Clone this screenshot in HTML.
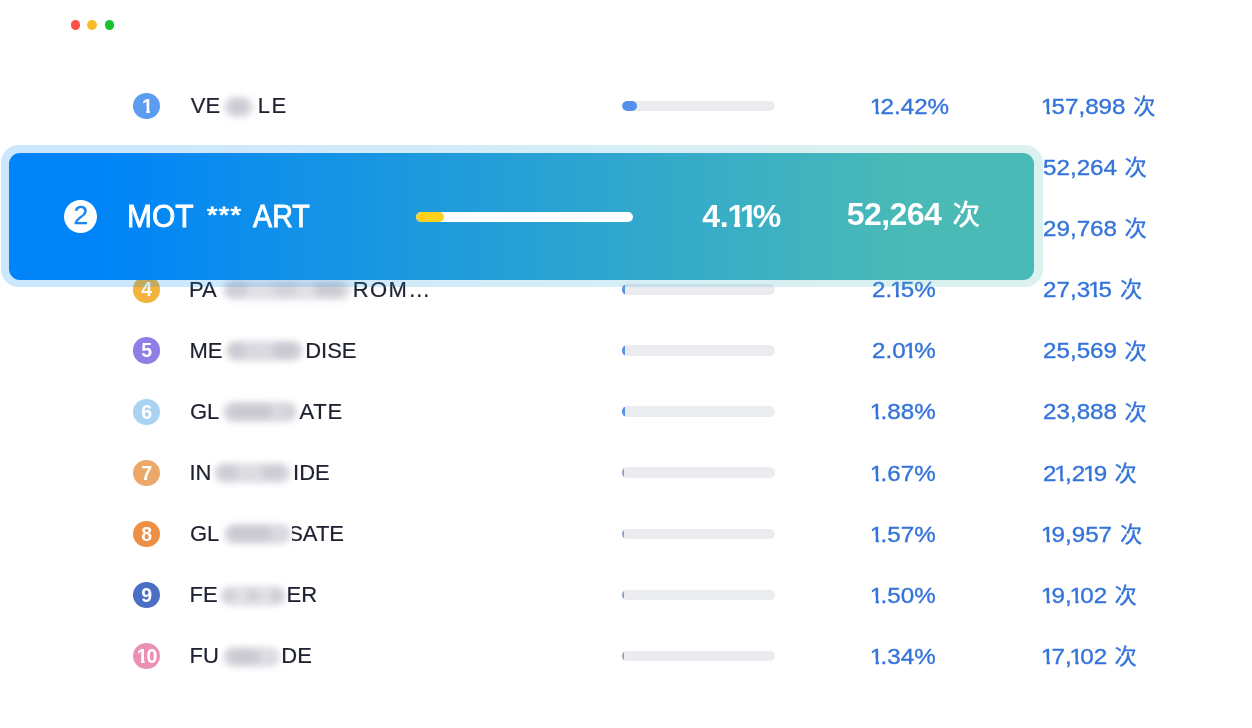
<!DOCTYPE html>
<html><head><meta charset="utf-8"><title>rank</title>
<style>
html,body{margin:0;padding:0;background:#fff;}
body{width:1252px;height:728px;position:relative;overflow:hidden;font-family:"Liberation Sans","Noto Sans CJK SC",sans-serif;}
.dot{position:absolute;width:9.6px;height:9.8px;border-radius:50%;top:20.05px;}
.row{position:absolute;left:0;width:1252px;height:40px;}
.badge{position:absolute;left:132.9px;top:6.9px;width:27.4px;height:26.2px;border-radius:50%;color:#fff;font-size:19.5px;line-height:26.4px;text-align:center;font-weight:bold;}
.t{position:absolute;top:0.3px;height:40px;line-height:40px;font-size:22px;color:#1e2230;white-space:nowrap;-webkit-text-stroke:0.2px #1e2230;}
.tr{position:absolute;top:0.2px;height:40px;overflow:hidden;}
.tr .t{top:0;left:auto;right:0;}
.blur{position:absolute;top:10.5px;height:20px;background:#dad9e0;border-radius:10px;filter:blur(3px);}
.spot{position:absolute;top:13.5px;height:13px;background:#c6c5ce;border-radius:7px;filter:blur(3px);}
.bar{position:absolute;left:622.2px;top:14.7px;width:152.4px;height:10.6px;border-radius:5.3px;background:#ebecf0;overflow:hidden;}
.fill{position:absolute;left:0;top:0;height:10.6px;border-radius:5.3px;}
.p{position:absolute;left:872px;top:0.8px;line-height:40px;font-size:22px;color:#3474da;white-space:nowrap;-webkit-text-stroke:0.35px #3474da;transform:scaleX(1.1);transform-origin:0 50%;}
.c{position:absolute;left:1042.8px;top:0.8px;line-height:40px;font-size:22px;color:#3474da;white-space:nowrap;-webkit-text-stroke:0.35px #3474da;transform:scaleX(1.1);transform-origin:0 50%;}
.c span{display:inline-block;font-size:22px;position:relative;top:0.2px;margin-left:1px;transform:scaleX(.92);transform-origin:0 50%;-webkit-text-stroke:0.3px #3474da;}
.badge i{font-style:normal;display:inline-block;position:relative;clip-path:polygon(0 0,7.9px 0,7.9px 100%,4.2px 100%,4.2px 14px,0 14px);}
.p i,.c i{font-style:normal;display:inline-block;margin:0 -2.6px 0 -1.95px;clip-path:polygon(0 0,8.25px 0,8.25px 100%,5.3px 100%,5.3px 21px,0 21px);}
.hl-o{position:absolute;left:1px;top:145px;width:1042px;height:142px;border-radius:18px;background:linear-gradient(90deg,rgba(0,132,248,.2) 0%,rgba(0,132,248,.2) 9.6%,rgba(74,186,182,.2) 87.5%,rgba(74,186,182,.2) 100%);}
.hl{position:absolute;left:9px;top:153px;width:1025px;height:126.6px;border-radius:11px;background:linear-gradient(90deg,#0084f8 0%,#0084f8 9%,#4abab6 88%,#4abab6 100%);color:#fff;}
.hl .num{position:absolute;left:55.4px;top:47.4px;width:33px;height:33px;border-radius:50%;background:#fff;color:#1c86ee;font-size:26.5px;line-height:31.5px;text-align:center;-webkit-text-stroke:0.3px #1c86ee;}
.hl .name{position:absolute;left:0;top:39.4px;line-height:50px;font-size:31px;white-space:nowrap;-webkit-text-stroke:0.85px #fff;}
.hl .name span{position:absolute;top:0;transform-origin:0 50%;}
.hl .hb{position:absolute;left:407px;top:58.8px;width:217px;height:10.4px;border-radius:5.2px;background:#fff;overflow:hidden;}
.hl .hf{position:absolute;left:0;top:0;width:28px;height:10.4px;border-radius:5.2px;background:#fcd11d;}
.hl .hp{position:absolute;left:693.3px;top:38.1px;line-height:50px;font-size:32px;font-weight:bold;white-space:nowrap;letter-spacing:-0.4px;}
.hl .hp i{font-style:normal;display:inline-block;clip-path:polygon(0 0,12.8px 0,12.8px 100%,6.8px 100%,6.8px 26px,0 26px);}
.hl .hc{position:absolute;left:837.7px;top:36.2px;line-height:50px;font-size:32px;font-weight:bold;white-space:nowrap;letter-spacing:-0.55px;}
.hl .hc span{font-size:28px;font-weight:500;position:relative;top:-0.2px;margin-left:2.6px;}
</style></head><body>
<div class="dot" style="left:70.8px;background:#fe5147"></div>
<div class="dot" style="left:87.15px;background:#f7bc2a"></div>
<div class="dot" style="left:104.5px;background:#17c22f"></div>
<div class="row" style="top:147.3px"><div class="c">52,264 <span>次</span></div></div>
<div class="row" style="top:208.4px"><div class="c">29,768 <span>次</span></div></div>
<div class="row" style="top:86.2px"><div class="badge" style="background:#5b9bf0"><i style="left:0.9px">1</i></div><div class="t" style="left:190.8px">VE</div><div class="blur" style="left:224px;width:29px;opacity:1"></div><div class="spot" style="left:230px;width:16px;opacity:0.8"></div><div class="t" style="left:257.7px;letter-spacing:1.5px;">LE</div><div class="bar"><div class="fill" style="width:15.1px;background:#5590ee"></div></div><div class="p"><i>1</i>2.42%</div><div class="c"><i>1</i>57,898 <span>次</span></div></div>
<div class="row" style="top:269.5px"><div class="badge" style="background:#f3b33d">4</div><div class="t" style="left:189.0px">PA</div><div class="blur" style="left:223px;width:128px;opacity:0.8"></div><div class="spot" style="left:226px;width:22px;opacity:0.7"></div><div class="spot" style="left:272px;width:26px;opacity:0.5"></div><div class="spot" style="left:314px;width:30px;opacity:0.8"></div><div class="t" style="left:352.7px;letter-spacing:1.4px;">ROM…</div><div class="bar"><div class="fill" style="width:3px;background:#5590ee"></div></div><div class="p">2.<i>1</i>5%</div><div class="c">27,3<i>1</i>5 <span>次</span></div></div>
<div class="row" style="top:330.6px"><div class="badge" style="background:#8f7ee6">5</div><div class="t" style="left:189.5px">ME</div><div class="blur" style="left:226px;width:77px;opacity:1"></div><div class="spot" style="left:229px;width:17px;opacity:0.7"></div><div class="spot" style="left:272px;width:26px;opacity:0.8"></div><div class="t" style="left:305.2px;">DISE</div><div class="bar"><div class="fill" style="width:3px;background:#5590ee"></div></div><div class="p">2.0<i>1</i>%</div><div class="c">25,569 <span>次</span></div></div>
<div class="row" style="top:391.7px"><div class="badge" style="background:#a9d3f2">6</div><div class="t" style="left:190.0px">GL</div><div class="blur" style="left:223px;width:74px;opacity:1"></div><div class="spot" style="left:228px;width:44px;opacity:0.8"></div><div class="spot" style="left:283px;width:11px;opacity:0.4"></div><div class="t" style="left:299.5px;letter-spacing:.8px;">ATE</div><div class="bar"><div class="fill" style="width:3px;background:#5590ee"></div></div><div class="p"><i>1</i>.88%</div><div class="c">23,888 <span>次</span></div></div>
<div class="row" style="top:452.8px"><div class="badge" style="background:#eba868">7</div><div class="t" style="left:189.5px">IN</div><div class="blur" style="left:214px;width:77px;opacity:0.9"></div><div class="spot" style="left:218px;width:20px;opacity:0.7"></div><div class="spot" style="left:262px;width:23px;opacity:0.7"></div><div class="t" style="left:293.1px;">IDE</div><div class="bar"><div class="fill" style="width:2.2px;background:#8aa2c8"></div></div><div class="p"><i>1</i>.67%</div><div class="c">2<i>1</i>,2<i>1</i>9 <span>次</span></div></div>
<div class="row" style="top:513.9px"><div class="badge" style="background:#ee8f43">8</div><div class="t" style="left:190.0px">GL</div><div class="blur" style="left:224px;width:67px;opacity:1"></div><div class="spot" style="left:229px;width:43px;opacity:0.8"></div><div class="tr" style="left:292px;width:52.0px"><div class="t">SATE</div></div><div class="bar"><div class="fill" style="width:2.2px;background:#8aa2c8"></div></div><div class="p"><i>1</i>.57%</div><div class="c"><i>1</i>9,957 <span>次</span></div></div>
<div class="row" style="top:575.0px"><div class="badge" style="background:#4a6fc4">9</div><div class="t" style="left:189.5px">FE</div><div class="blur" style="left:221px;width:65px;opacity:0.8"></div><div class="spot" style="left:223px;width:12px;opacity:0.6"></div><div class="spot" style="left:246px;width:14px;opacity:0.5"></div><div class="spot" style="left:270px;width:13px;opacity:0.7"></div><div class="t" style="left:286.5px;">ER</div><div class="bar"><div class="fill" style="width:2.2px;background:#8aa2c8"></div></div><div class="p"><i>1</i>.50%</div><div class="c"><i>1</i>9,<i>1</i>02 <span>次</span></div></div>
<div class="row" style="top:636.1px"><div class="badge" style="background:#ea90b5"><i style="left:0.4px;margin-right:-1.2px">1</i><span style="position:relative;left:0.4px">0</span></div><div class="t" style="left:189.5px">FU</div><div class="blur" style="left:223px;width:57px;opacity:0.9"></div><div class="spot" style="left:228px;width:32px;opacity:0.8"></div><div class="t" style="left:281.3px;">DE</div><div class="bar"><div class="fill" style="width:2.2px;background:#8aa2c8"></div></div><div class="p"><i>1</i>.34%</div><div class="c"><i>1</i>7,<i>1</i>02 <span>次</span></div></div>
<div class="hl-o"></div>
<div class="hl"><div class="num">2</div><div class="name"><span style="left:118.2px;transform:scaleX(0.967)">MOT</span> <span style="left:198px;top:-2.6px;font-size:21.5px;letter-spacing:1px;transform:scaleX(1.25)">***</span> <span style="left:243.5px;transform:scaleX(0.925)">ART</span></div><div class="hb"><div class="hf"></div></div><div class="hp">4.<i style="margin-left:-0.8px">1</i><i style="margin-left:-5px">1</i><span style="margin-left:-4.4px">%</span></div><div class="hc">52,264 <span>次</span></div></div>
</body></html>
